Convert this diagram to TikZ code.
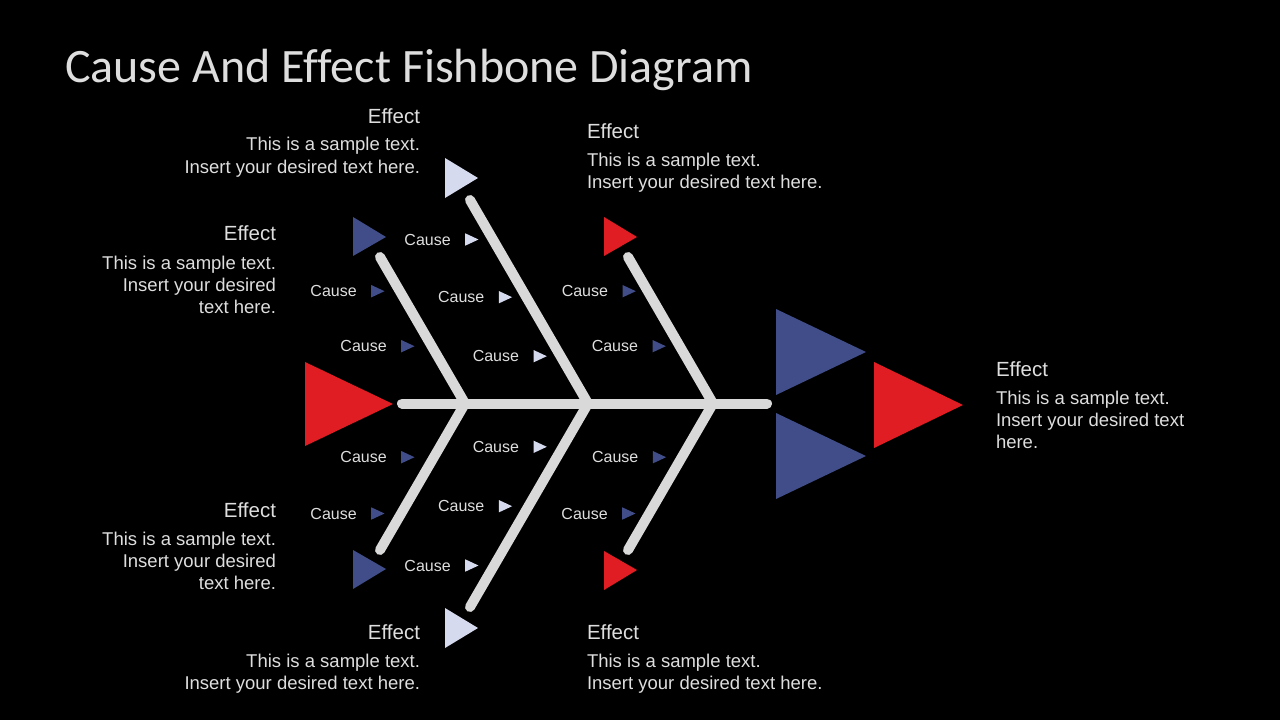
\documentclass[tikz,border=0pt]{standalone}
\usepackage{fontspec}
\setmainfont{Liberation Sans}
\newfontfamily\titlefont[Ligatures=NoCommon]{Carlito}
\definecolor{bonegrey}{HTML}{D9D9D9}
\definecolor{textgrey}{HTML}{DEDEDE}
\definecolor{fishblue}{HTML}{404D88}
\definecolor{fishred}{HTML}{E11D24}
\definecolor{fishlight}{HTML}{D6DAEE}
\begin{document}
\begin{tikzpicture}[x=1pt,y=-1pt,
  every node/.style={inner sep=0pt, outer sep=0pt, text=textgrey},
  title/.style={font=\titlefont\fontsize{48}{56}\selectfont, text=textgrey},
  effhead/.style={font=\fontsize{20.5}{24}\selectfont},
  effbody/.style={font=\fontsize{18.5}{22.2}\selectfont},
  cause/.style={font=\fontsize{16}{19}\selectfont, anchor=base east},
  bone/.style={line width=10pt, line cap=round, color=bonegrey}]
\fill[black] (0,0) rectangle (1280,720);
\useasboundingbox (0,0) rectangle (1280,720);

% Title
\node[title, anchor=base west] (title) at (65,82) {Cause And Effect Fishbone Diagram};

% Spine and bones
\coordinate (sL) at (402,403.5);
\coordinate (sR) at (767,403.5);
\coordinate (j1) at (465,403.5);
\coordinate (j2) at (588,403.5);
\coordinate (j3) at (713,403.5);
\coordinate (t1) at (380,257);
\coordinate (t2) at (470,200);
\coordinate (t3) at (628,257);
\coordinate (b1) at (380,550);
\coordinate (b2) at (470,607);
\coordinate (b3) at (628,550);
\draw[bone] (sL) -- (sR);
\draw[bone] (t1) -- (j1) -- (b1);
\draw[bone] (t2) -- (j2) -- (b2);
\draw[bone] (t3) -- (j3) -- (b3);

% Head and tail triangles
\fill[fishred] (305,362) -- (393,404) -- (305,446) -- cycle;
\fill[fishblue] (776,309) -- (866,352) -- (776,395) -- cycle;
\fill[fishblue] (776,413) -- (866,456) -- (776,499) -- cycle;
\fill[fishred] (874,362) -- (963,405) -- (874,448) -- cycle;

% Bone end triangles, top row
\fill[fishblue] (353,217) -- (386,237) -- (353,256) -- cycle;
\fill[fishlight] (445,158) -- (478,178) -- (445,198) -- cycle;
\fill[fishred] (604,217) -- (637,237) -- (604,256) -- cycle;

% Bone end triangles, bottom row
\fill[fishblue] (353,550) -- (386,569) -- (353,589) -- cycle;
\fill[fishlight] (445,608) -- (478,628) -- (445,648) -- cycle;
\fill[fishred] (604,551) -- (637,570) -- (604,590) -- cycle;

% Causes, upper bones
\node[cause] (c1a) at (356.7,296.7) {Cause};
\node[cause] (c1b) at (386.7,351.7) {Cause};
\node[cause] (c2a) at (450.7,245) {Cause};
\node[cause] (c2b) at (484.3,302.7) {Cause};
\node[cause] (c2c) at (519,361.7) {Cause};
\node[cause] (c3a) at (608,296.7) {Cause};
\node[cause] (c3b) at (638,351.7) {Cause};
\fill[fishblue] (c1a.base east) ++(14.5,0.7) -- ++(13.3,-6.2) -- ++(-13.3,-6.2) -- cycle;
\fill[fishblue] (c1b.base east) ++(14.5,0.7) -- ++(13.3,-6.2) -- ++(-13.3,-6.2) -- cycle;
\fill[fishlight] (c2a.base east) ++(14.5,0.7) -- ++(13.3,-6.2) -- ++(-13.3,-6.2) -- cycle;
\fill[fishlight] (c2b.base east) ++(14.5,0.7) -- ++(13.3,-6.2) -- ++(-13.3,-6.2) -- cycle;
\fill[fishlight] (c2c.base east) ++(14.5,0.7) -- ++(13.3,-6.2) -- ++(-13.3,-6.2) -- cycle;
\fill[fishblue] (c3a.base east) ++(14.5,0.7) -- ++(13.3,-6.2) -- ++(-13.3,-6.2) -- cycle;
\fill[fishblue] (c3b.base east) ++(14.5,0.7) -- ++(13.3,-6.2) -- ++(-13.3,-6.2) -- cycle;

% Causes, lower bones
\node[cause] (c4a) at (386.7,462.7) {Cause};
\node[cause] (c4b) at (356.7,519) {Cause};
\node[cause] (c5a) at (519,452.3) {Cause};
\node[cause] (c5b) at (484.3,511.7) {Cause};
\node[cause] (c5c) at (450.7,571) {Cause};
\node[cause] (c6a) at (638.3,462.7) {Cause};
\node[cause] (c6b) at (607.7,519) {Cause};
\fill[fishblue] (c4a.base east) ++(14.5,0.7) -- ++(13.3,-6.2) -- ++(-13.3,-6.2) -- cycle;
\fill[fishblue] (c4b.base east) ++(14.5,0.7) -- ++(13.3,-6.2) -- ++(-13.3,-6.2) -- cycle;
\fill[fishlight] (c5a.base east) ++(14.5,0.7) -- ++(13.3,-6.2) -- ++(-13.3,-6.2) -- cycle;
\fill[fishlight] (c5b.base east) ++(14.5,0.7) -- ++(13.3,-6.2) -- ++(-13.3,-6.2) -- cycle;
\fill[fishlight] (c5c.base east) ++(14.5,0.7) -- ++(13.3,-6.2) -- ++(-13.3,-6.2) -- cycle;
\fill[fishblue] (c6a.base east) ++(14.5,0.7) -- ++(13.3,-6.2) -- ++(-13.3,-6.2) -- cycle;
\fill[fishblue] (c6b.base east) ++(14.5,0.7) -- ++(13.3,-6.2) -- ++(-13.3,-6.2) -- cycle;

% Effect texts, top
\node[effhead, anchor=base east] (e1h) at (420,123) {Effect};
\node[effbody, anchor=north east, align=right] (e1b) at (420,137.5) {This is a sample text.\\Insert your desired text here.};
\node[effhead, anchor=base east] (e2h) at (276,240) {Effect};
\node[effbody, anchor=north east, align=right] (e2b) at (276,256) {This is a sample text.\\Insert your desired\\text here.};
\node[effhead, anchor=base west] (e3h) at (587,138) {Effect};
\node[effbody, anchor=north west, align=left] (e3b) at (587,153) {This is a sample text.\\Insert your desired text here.};

% Effect texts, bottom
\node[effhead, anchor=base east] (e4h) at (276,517) {Effect};
\node[effbody, anchor=north east, align=right] (e4b) at (276,532) {This is a sample text.\\Insert your desired\\text here.};
\node[effhead, anchor=base east] (e5h) at (420,639) {Effect};
\node[effbody, anchor=north east, align=right] (e5b) at (420,654) {This is a sample text.\\Insert your desired text here.};
\node[effhead, anchor=base west] (e6h) at (587,639) {Effect};
\node[effbody, anchor=north west, align=left] (e6b) at (587,654) {This is a sample text.\\Insert your desired text here.};

% Effect text, head
\node[effhead, anchor=base west] (e7h) at (996,376) {Effect};
\node[effbody, anchor=north west, align=left] (e7b) at (996,391) {This is a sample text.\\Insert your desired text\\here.};
\end{tikzpicture}
\end{document}
